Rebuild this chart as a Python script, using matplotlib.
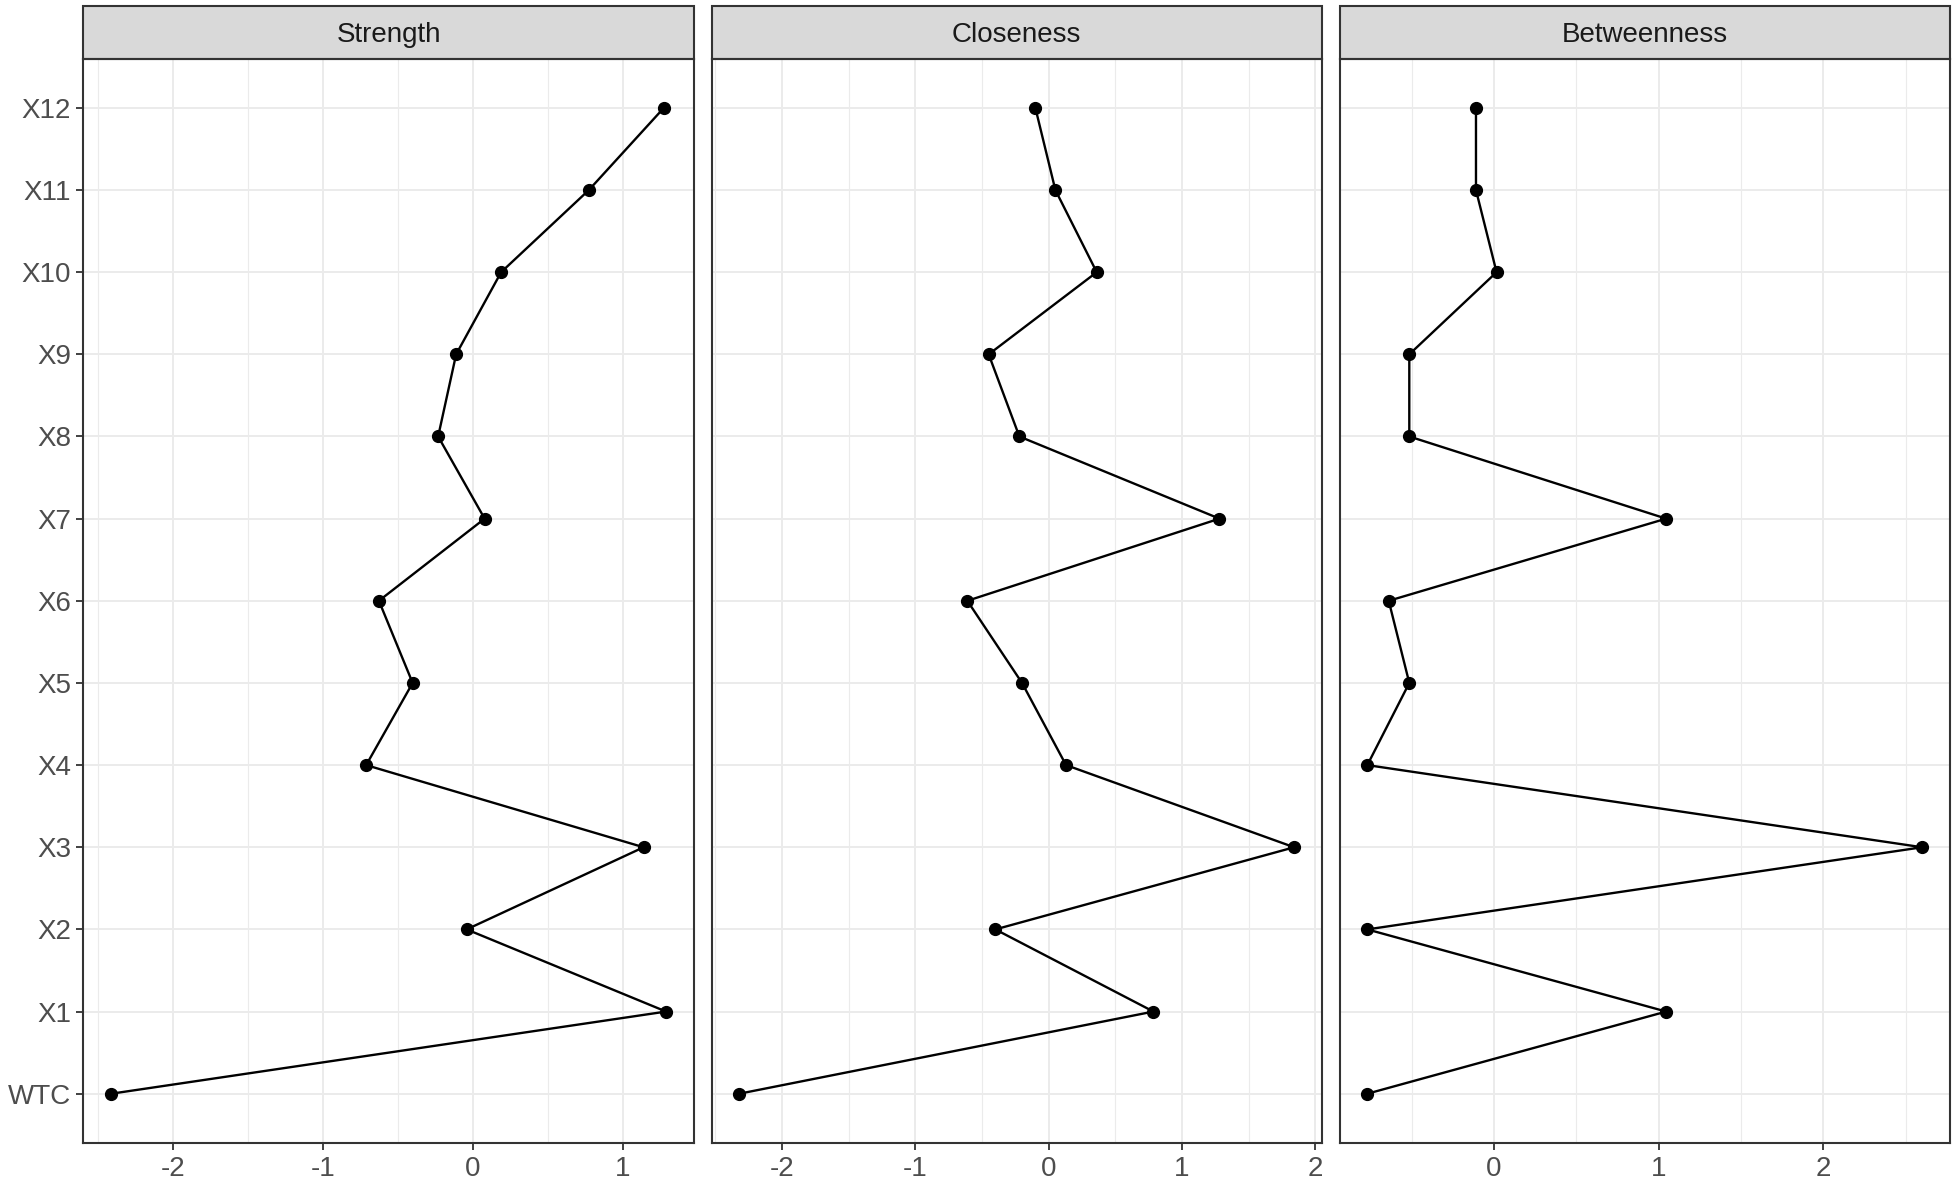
import numpy as np
import matplotlib
matplotlib.use("Agg")
import matplotlib.pyplot as plt
from matplotlib.patches import Rectangle
from matplotlib.ticker import MultipleLocator

nodes = ["WTC", "X1", "X2", "X3", "X4", "X5", "X6", "X7", "X8", "X9", "X10", "X11", "X12"]
panels = ["Strength", "Closeness", "Betweenness"]

strength = [-2.41, 1.29, -0.04, 1.14, -0.71, -0.40, -0.625, 0.08, -0.23, -0.11, 0.19, 0.775, 1.275]
closeness = [-2.32, 0.785, -0.40, 1.84, 0.13, -0.20, -0.61, 1.28, -0.22, -0.45, 0.36, 0.05, -0.10]
betweenness = [-0.77, 1.045, -0.77, 2.60, -0.77, -0.515, -0.64, 1.045, -0.515, -0.515, 0.015, -0.11, -0.11]

values = [strength, closeness, betweenness]

plt.rcParams['font.family'] = ['Liberation Sans', 'DejaVu Sans']
plt.rcParams['axes.unicode_minus'] = False

fig, axes = plt.subplots(1, 3, figsize=(19.55, 11.91), dpi=100, sharey=True)
fig.subplots_adjust(left=0.0427, right=0.9974, top=0.9508, bottom=0.0403, wspace=0.029)

ypos = np.arange(len(nodes))
strip_h = 0.0485

for ax, name, vals in zip(axes, panels, values):
    ax.plot(vals, ypos, color="black", linewidth=1.7, marker="o", markersize=8.5, zorder=3)
    ax.set_ylim(-0.6, len(nodes) - 1 + 0.6)
    ax.margins(x=0.05)
    ax.xaxis.set_major_locator(MultipleLocator(1))
    ax.xaxis.set_minor_locator(MultipleLocator(0.5))
    ax.grid(which="major", color="#EBEBEB", linewidth=1.4)
    ax.grid(which="minor", axis="x", color="#EBEBEB", linewidth=0.8)
    ax.set_axisbelow(True)
    for s in ax.spines.values():
        s.set_color("#333333")
        s.set_linewidth(1.5)
    ax.tick_params(which="major", length=5, width=1.3, color="#333333",
                   labelsize=20, labelcolor="#4D4D4D", pad=4)
    ax.tick_params(which="minor", length=0)
    ax.add_patch(Rectangle((0, 1), 1, strip_h, transform=ax.transAxes, clip_on=False,
                           facecolor="#D9D9D9", edgecolor="#333333", linewidth=1.5))
    ax.text(0.5, 1 + strip_h * 0.45, name, transform=ax.transAxes, ha="center", va="center",
            fontsize=20, color="#1A1A1A")

axes[0].set_yticks(ypos)
axes[0].set_yticklabels(nodes)
for ax in axes[1:]:
    ax.tick_params(axis="y", left=False, labelleft=False)

fig.savefig("out.png", dpi=100)
